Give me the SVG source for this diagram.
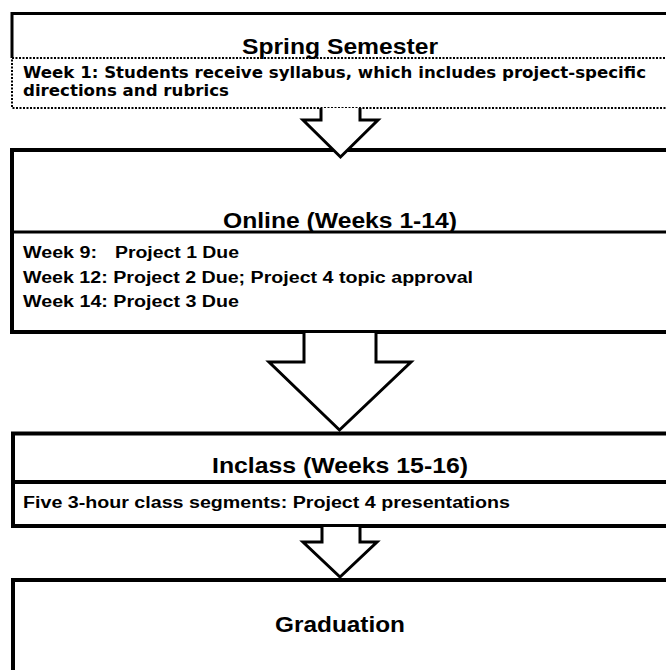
<svg xmlns="http://www.w3.org/2000/svg" width="666" height="670" viewBox="0 0 666 670">
<style>
.title{font-family:"Liberation Sans",Arial,sans-serif;font-weight:bold;font-size:22px;fill:#000}
.body{font-family:"Liberation Sans",Arial,sans-serif;font-weight:bold;font-size:16px;fill:#000}
.wide{font-family:"DejaVu Sans",Verdana,sans-serif;font-weight:bold;font-size:15px;fill:#000}
.solid{fill:none;stroke:#000;stroke-width:4}
.thin{fill:none;stroke:#000;stroke-width:3}
.dot{fill:none;stroke:#000;stroke-width:2;stroke-dasharray:2 1.5}
.arrow{fill:#fff;stroke:#000;stroke-width:3;stroke-linejoin:miter}
</style>
<rect width="666" height="670" fill="#fff"/>
<g id="spring">
<path class="thin" d="M12,58 V13.5 H700"/>
<path class="dot" d="M700,58 H12 V108 H700"/>
<text class="title" x="340" y="54" text-anchor="middle" textLength="196" lengthAdjust="spacingAndGlyphs">Spring Semester</text>
<text class="wide" x="23" y="78" textLength="623" lengthAdjust="spacingAndGlyphs">Week 1: Students receive syllabus, which includes project-specific</text>
<text class="wide" x="23" y="96" textLength="206" lengthAdjust="spacingAndGlyphs">directions and rubrics</text>
</g>
<g id="online">
<path class="solid" d="M700,150 H12 V332 H700"/>
<line class="thin" x1="12" y1="232" x2="700" y2="232"/>
<text class="title" x="340" y="228" text-anchor="middle" textLength="234" lengthAdjust="spacingAndGlyphs">Online (Weeks 1-14)</text>
<text class="body" x="23" y="258" font-size="17" textLength="74" lengthAdjust="spacingAndGlyphs">Week 9:</text>
<text class="body" x="115" y="258" font-size="17" textLength="124" lengthAdjust="spacingAndGlyphs">Project 1 Due</text>
<text class="body" x="23" y="283" font-size="17" textLength="450" lengthAdjust="spacingAndGlyphs">Week 12: Project 2 Due; Project 4 topic approval</text>
<text class="body" x="23" y="307" font-size="17" textLength="216" lengthAdjust="spacingAndGlyphs">Week 14: Project 3 Due</text>
</g>
<g id="inclass">
<path class="solid" d="M700,433.5 H13 V526 H700"/>
<line class="solid" x1="13" y1="482" x2="700" y2="482"/>
<text class="title" x="340" y="473" text-anchor="middle" textLength="256" lengthAdjust="spacingAndGlyphs">Inclass (Weeks 15-16)</text>
<text class="body" x="23" y="508" textLength="487" lengthAdjust="spacingAndGlyphs">Five 3-hour class segments: Project 4 presentations</text>
</g>
<g id="graduation">
<path class="solid" d="M700,580 H13 V680"/>
<text class="title" x="340" y="632" text-anchor="middle" textLength="130" lengthAdjust="spacingAndGlyphs">Graduation</text>
</g>
<g id="connectors">
<path class="arrow" d="M321,108 V120 H303 L340.5,157 L378,120 H360 V108"/>
<path class="arrow" d="M304,333 V362 H269 L339.5,430 L411,362 H376 V333"/>
<path class="arrow" d="M322,527 V542 H303 L340,577 L377,542 H360 V527"/>
</g>
</svg>
